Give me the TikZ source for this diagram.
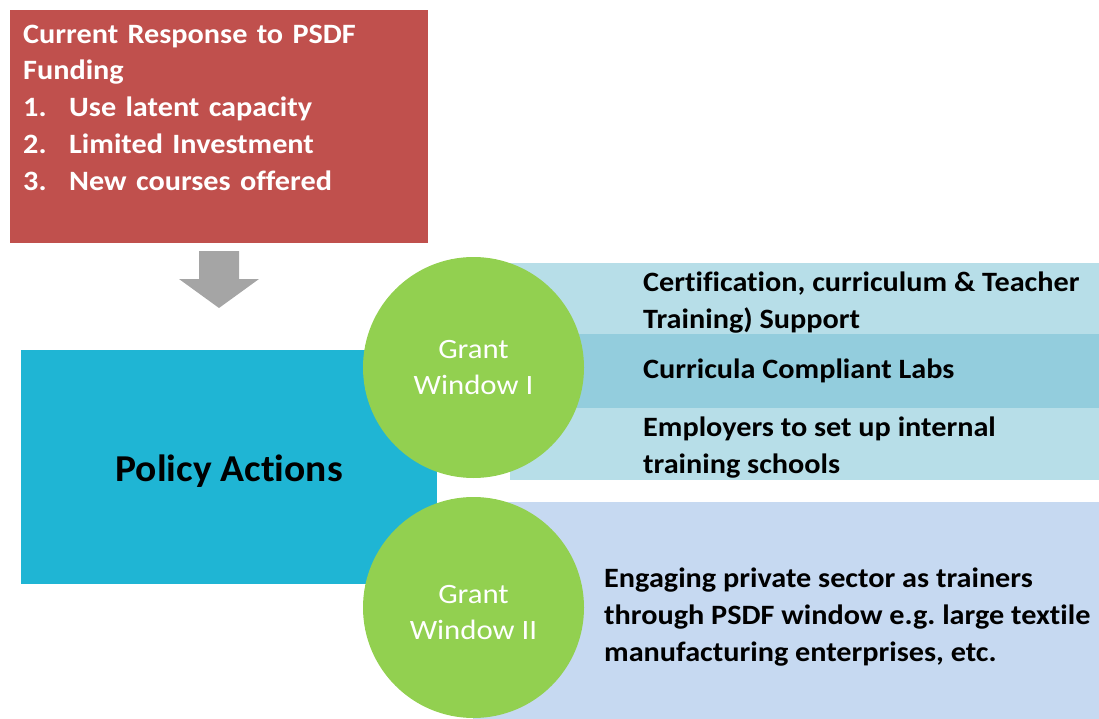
\documentclass[tikz,border=0pt]{standalone}
\usepackage{fontspec}
\setmainfont{Carlito}
\newfontfamily\bodyface{Carlito}[FakeStretch=1.08, Ligatures=NoCommon]
\newfontfamily\policyface{Carlito}[FakeStretch=1.04, Ligatures=NoCommon]
\newfontfamily\grantface{Carlito}[FakeStretch=1.10, Ligatures=NoCommon]
\usetikzlibrary{shapes}

\definecolor{respred}{HTML}{C0504D}
\definecolor{arrowgray}{HTML}{A5A5A5}
\definecolor{policyblue}{HTML}{1FB5D4}
\definecolor{bandlight}{HTML}{B7DEE8}
\definecolor{bandmid}{HTML}{93CDDD}
\definecolor{bandblue}{HTML}{C6D9F1}
\definecolor{grantgreen}{HTML}{92D050}

\newcommand\bodyfont{\bodyface\fontsize{28}{36.8}\selectfont\bfseries}
\frenchspacing

\tikzset{
  box/.style={rectangle, draw=none, inner sep=0pt, anchor=north west},
  bandtext/.style={anchor=north west, inner sep=0pt, align=left, text height=20pt,
    font=\bodyface\fontsize{28}{37}\selectfont\bfseries},
  grant/.style={circle, fill=grantgreen, minimum size=221pt, inner sep=0pt, align=center,
    text=white, font=\grantface\fontsize{28}{36}\selectfont}
}

\begin{document}
\begin{tikzpicture}[x=1pt, y=-1pt]
\useasboundingbox (0,0) rectangle (1099,719);

% Current response box
\node[box, fill=respred, minimum width=418pt, minimum height=233pt, text width=392pt,
  inner xsep=13pt, text height=33pt, text depth=200pt, align=left, text=white,
  font=\bodyfont] (response) at (10,10) {
Current Response to PSDF\\
Funding\\
\makebox[46pt][l]{1.}Use latent capacity\\
\makebox[46pt][l]{2.}Limited Investment\\
\makebox[46pt][l]{3.}New courses offered
};

% block arrow
\fill[arrowgray] (199,251) -- (239,251) -- (239,279) -- (259,279) -- (219,308)
  -- (179,279) -- (199,279) -- cycle;

% Policy Actions box
\node[box, fill=policyblue, minimum width=416pt, minimum height=234pt, text height=28pt,
  text depth=0pt, font=\policyface\fontsize{38}{40}\selectfont\bfseries] (policy) at (21,350) {Policy Actions};

% Grant Window I bands
\node[box, fill=bandlight, minimum width=589pt, minimum height=71pt] (bandA) at (510,263) {};
\node[box, fill=bandmid, minimum width=589pt, minimum height=74pt] (bandB) at (510,334) {};
\node[box, fill=bandlight, minimum width=589pt, minimum height=72pt] (bandC) at (510,408) {};

% Grant Window II band
\node[box, fill=bandblue, minimum width=626pt, minimum height=217pt] (bandD) at (473,502) {};

% band texts (text height runs down to the last line)
\node[bandtext, text height=57pt] (certText) at (643,271) {Certification, curriculum \& Teacher\\Training) Support};
\node[bandtext] (labsText) at (643,358) {Curricula Compliant Labs};
\node[bandtext, text height=57pt] (schoolText) at (643,416) {Employers to set up internal\\training schools};
\node[bandtext, text height=94pt] (privateText) at (604,567) {Engaging private sector as trainers\\
through PSDF window e.g. large textile\\manufacturing enterprises, etc.};

% Grant circles
\node[grant, text height=55pt] (grantA) at (473.5,367.5) {Grant\\Window I};
\node[grant, text height=65pt] (grantB) at (473.5,607.5) {Grant\\Window II};
\end{tikzpicture}
\end{document}
